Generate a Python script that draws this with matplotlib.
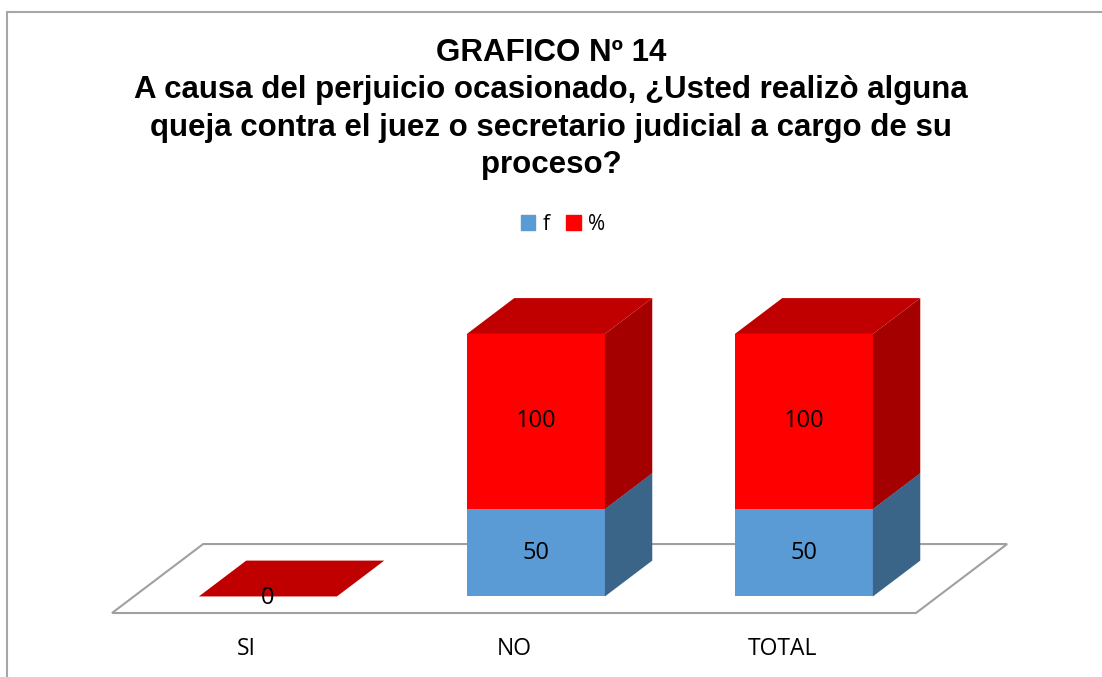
import numpy as np
import matplotlib
matplotlib.use('Agg')
import matplotlib.pyplot as plt
from matplotlib.patches import Polygon, Rectangle

# data
categories = ['SI', 'NO', 'TOTAL']
f_values = [0, 50, 50]
pct_values = [0, 100, 100]
series_names = ['f', '%']

title = ('GRAFICO Nº 14\n'
         'A causa del perjuicio ocasionado, ¿Usted realizò alguna\n'
         'queja contra el juez o secretario judicial a cargo de su\n'
         'proceso?')

# colours (front, side, top)
blue = ('#5B9BD5', '#3A6488', '#4A7DAB')
red = ('#FF0000', '#A50000', '#C00000')

# 3d look: depth vector of floor in (category, value) units
floor_dx, floor_dy = 0.34, 39.4
t0, t1 = 0.24, 0.76          # bar depth range inside the floor
bar_w = 0.515

W, H = 1102, 677
fig = plt.figure(figsize=(W / 100, H / 100), dpi=100)
ax = fig.add_axes([0, 0, 1, 1])
ax.set_xlim(-246 / 268, (W - 246) / 268)
ax.set_ylim(-64 / 1.75, (H - 64) / 1.75)
ax.axis('off')

# outer frame
fig.patches.append(Rectangle((7 / W, -0.1), 1.2, (H - 12) / H + 0.1,
                             transform=fig.transFigure, fill=False,
                             edgecolor='#A6A6A6', linewidth=1.5))

x = np.arange(len(categories))

# floor
fl = [(-0.5, 0), (2.5, 0), (2.5 + floor_dx, floor_dy), (-0.5 + floor_dx, floor_dy)]
ax.add_patch(Polygon(fl, closed=True, facecolor='white', edgecolor='#A0A0A0',
                     linewidth=1.5, zorder=1))

ox, oy = t0 * floor_dx, t0 * floor_dy
ddx, ddy = (t1 - t0) * floor_dx, (t1 - t0) * floor_dy


def box(xc, bottom, height, cols):
    xl = xc + ox - bar_w / 2
    xr = xc + ox + bar_w / 2
    yb = oy + bottom
    yt = yb + height
    ax.bar(xc + ox, height, bar_w, bottom=yb, color=cols[0], zorder=3)
    side = [(xr, yb), (xr + ddx, yb + ddy), (xr + ddx, yt + ddy), (xr, yt)]
    ax.add_patch(Polygon(side, closed=True, facecolor=cols[1], edgecolor='none', zorder=3))
    top = [(xl, yt), (xr, yt), (xr + ddx, yt + ddy), (xl + ddx, yt + ddy)]
    ax.add_patch(Polygon(top, closed=True, facecolor=cols[2], edgecolor='none', zorder=3))


lbl = dict(ha='center', va='center', fontsize=17, family='Open Sans', zorder=5)
for i in range(len(categories)):
    if f_values[i] > 0:
        box(x[i], 0, f_values[i], blue)
    box(x[i], f_values[i], pct_values[i], red)
    if f_values[i] > 0:
        ax.text(x[i] + ox, oy + f_values[i] / 2, str(f_values[i]), **lbl)
        ax.text(x[i] + ox, oy + f_values[i] + pct_values[i] / 2, str(pct_values[i]), **lbl)
    else:
        ax.text(x[i] + ox, oy - 1, str(pct_values[i]), **lbl)

# category labels
for i, c in enumerate(categories):
    ax.text(x[i], -20.5, c, ha='center', va='center', fontsize=16.5, family='Open Sans')

fig.text(0.5, 1 - 109 / H, title, ha='center', va='center', fontsize=22.5,
         fontweight='bold', family='Liberation Sans', linespacing=1.31)

# legend
handles = [Rectangle((0, 0), 1, 1, color=blue[0]), Rectangle((0, 0), 1, 1, color=red[0])]
fig.legend(handles, series_names, loc='center', bbox_to_anchor=(563 / W, 1 - 224 / H),
           ncol=2, frameon=False, prop={'family': 'Open Sans', 'size': 15},
           handlelength=0.7, handleheight=0.7, handletextpad=0.35, columnspacing=0.8)

fig.savefig('out.png', dpi=100)
